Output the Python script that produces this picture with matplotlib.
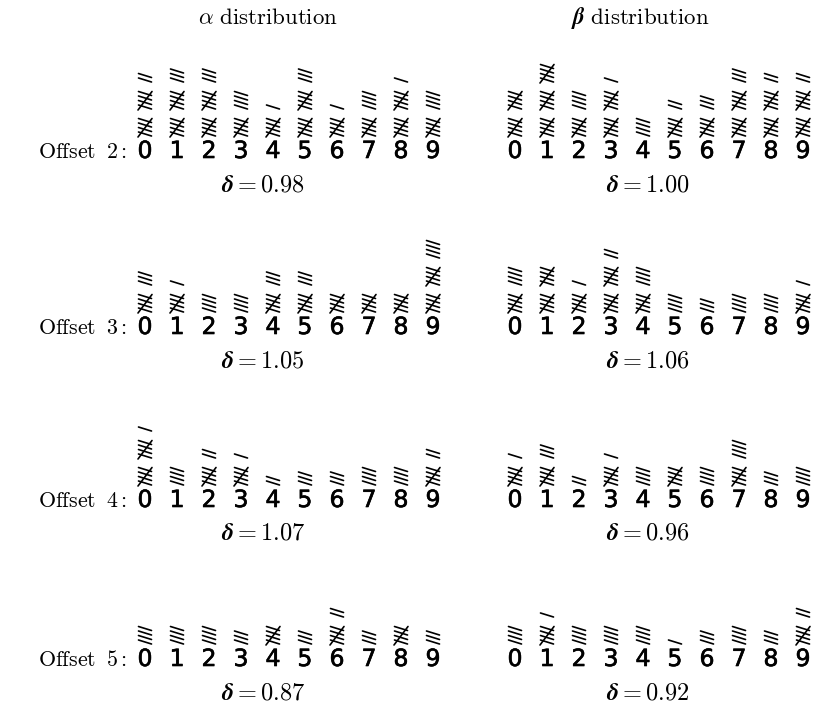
import matplotlib
matplotlib.use("Agg")
import matplotlib.pyplot as plt
import matplotlib.patheffects as pe

plt.rcParams['mathtext.fontset'] = 'cm'

# tally counts per digit 0-9
offsets = [2, 3, 4, 5]
alpha_counts = [
    [12, 13, 13, 9, 6, 13, 6, 9, 11, 9],
    [8, 6, 4, 4, 8, 8, 5, 5, 5, 14],
    [11, 4, 7, 6, 2, 3, 3, 4, 4, 7],
    [4, 4, 4, 3, 5, 3, 7, 3, 5, 3],
]
beta_counts = [
    [10, 15, 9, 11, 4, 7, 8, 13, 12, 12],
    [9, 10, 6, 12, 9, 4, 3, 4, 4, 6],
    [6, 8, 2, 6, 4, 5, 4, 9, 3, 4],
    [4, 6, 4, 4, 4, 1, 3, 4, 3, 7],
]
alpha_delta = ["0.98", "1.05", "1.07", "0.87"]
beta_delta = ["1.00", "1.06", "0.96", "0.92"]
digits = list(range(10))

# layout in pixels (y grows downward)
W, H = 813, 703
row_y = [151, 327, 500, 659]
panel_x0 = [145, 515]
col_step = 32
delta_x = [263, 648]
header_x = [268, 640]
slot = 27       # pitch of tally groups
stroke_gap = 4.5
half_w = 6.5
slant = 4.0


def draw_tally(ax, cx, base, n):
    # groups of five: four slanted strokes with a crossing bar
    g = 0
    while n > 0:
        k = min(n, 5)
        b = base - g * slot
        for j in range(min(k, 4)):
            y = b - j * stroke_gap
            ax.plot([cx - half_w, cx + half_w], [y - slant, y],
                    color='black', lw=1.2, solid_capstyle='round')
        if k == 5:
            ax.plot([cx - 7, cx + 7], [b + 1, b - 17.5],
                    color='black', lw=1.2, solid_capstyle='round')
        n -= k
        g += 1


fig = plt.figure(figsize=(W / 100, H / 100), dpi=100)
ax = fig.add_axes([0, 0, 1, 1])
ax.set_xlim(0, W)
ax.set_ylim(H, 0)
ax.axis('off')

ax.text(header_x[0], 18, r"$\alpha\ \mathrm{distribution}$", fontsize=16.5,
        ha='center', va='center')
ax.text(header_x[1], 18, r"$\boldsymbol{\beta}\ \mathrm{distribution}$", fontsize=16.5,
        ha='center', va='center')

thick = [pe.withStroke(linewidth=0.45, foreground='black')]

for r, off in enumerate(offsets):
    y = row_y[r]
    ax.text(127, y + 1, r"$\mathrm{Offset}\;\;" + str(off) + r"{:}$", fontsize=15.8,
            ha='right', va='center')
    for p, counts in enumerate([alpha_counts[r], beta_counts[r]]):
        for d in digits:
            cx = panel_x0[p] + d * col_step
            ax.text(cx, y, str(d), fontsize=17, family='DejaVu Sans',
                    ha='center', va='center', path_effects=thick)
            draw_tally(ax, cx, y - 15, counts[d])
    ax.text(delta_x[0], y + 33, r"$\boldsymbol{\delta}\mathbf{=" + alpha_delta[r] + "}$",
            fontsize=17.5, ha='center', va='center')
    ax.text(delta_x[1], y + 33, r"$\boldsymbol{\delta}\mathbf{=" + beta_delta[r] + "}$",
            fontsize=17.5, ha='center', va='center')

fig.savefig("out.png", dpi=100)
